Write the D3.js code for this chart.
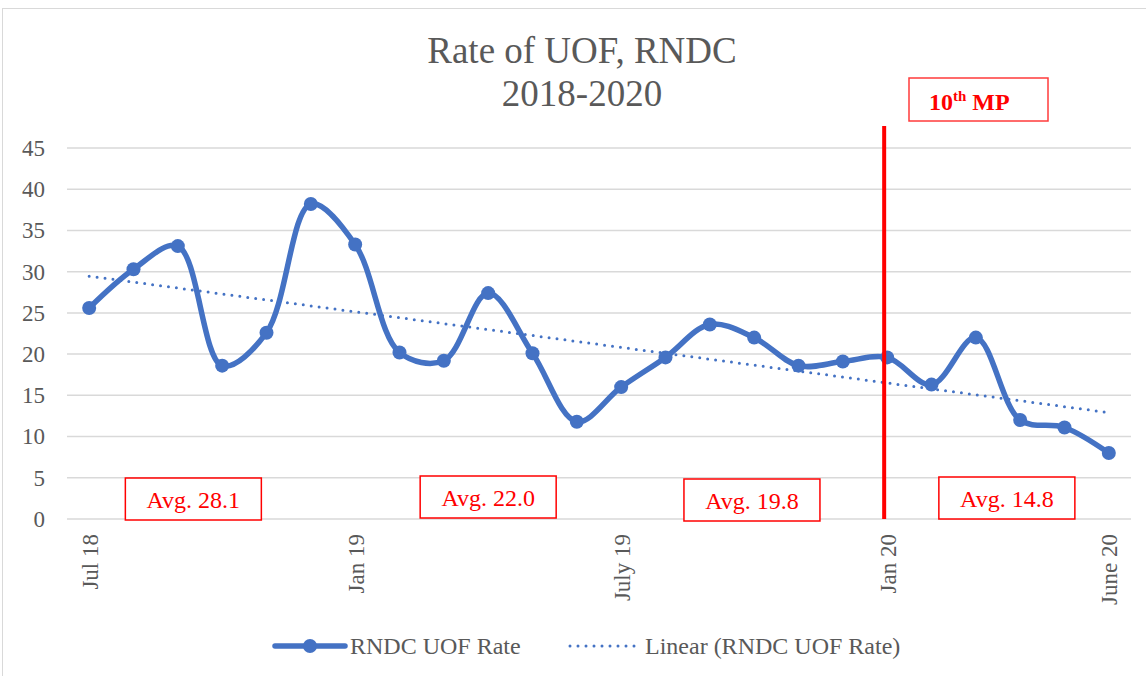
<!DOCTYPE html>
<html>
<head>
<meta charset="utf-8">
<script src="https://cdn.jsdelivr.net/npm/d3@7"></script>
<style>
body { margin: 0; background: #fff; }
text { font-family: "Liberation Serif", "Times New Roman", serif; }
</style>
</head>
<body>
<script>
// monthly UOF rate, Jul 2018 - Jun 2020
let months = ["Jul 18","Aug 18","Sep 18","Oct 18","Nov 18","Dec 18",
  "Jan 19","Feb 19","Mar 19","Apr 19","May 19","Jun 19",
  "Jul 19","Aug 19","Sep 19","Oct 19","Nov 19","Dec 19",
  "Jan 20","Feb 20","Mar 20","Apr 20","May 20","Jun 20"]
let rates = [25.6, 30.3, 33.1, 18.6, 22.6, 38.2,
  33.3, 20.2, 19.2, 27.4, 20.1, 11.8,
  16.0, 19.6, 23.6, 22.0, 18.6, 19.1,
  19.6, 16.3, 22.0, 12.0, 11.1, 8.0]
let tickMonths = ["Jul 18", "Jan 19", "Jul 19", "Jan 20", "Jun 20"]
let tickLabels = ["Jul 18", "Jan 19", "July 19", "Jan 20", "June 20"]
let avgLabels = ["Avg. 28.1", "Avg. 22.0", "Avg. 19.8", "Avg. 14.8"]
let yTicks = [0, 5, 10, 15, 20, 25, 30, 35, 40, 45]
let markerMonth = "Jan 20"

let width = 1146
let height = 676
let blue = "#4472c4"
let grey = "#595959"

let svg = d3.select("body")
.append("svg")
.attr("width", width)
.attr("height", height)

// chart border
svg.append("rect")
.attr("x", 2.5).attr("y", 8.5)
.attr("width", width + 10).attr("height", height + 10)
.style("fill", "none")
.style("stroke", "#d9d9d9")

//scales
let x = d3.scalePoint()
.domain(months)
.range([67, 1131])
.padding(0.5)

let y = d3.scaleLinear()
.domain([0, 45])
.range([519, 148])

// gridlines
svg.append("g")
.selectAll("line")
.data(yTicks)
.enter().append("line")
.attr("x1", 67).attr("x2", 1131)
.attr("y1", d => y(d)).attr("y2", d => y(d))
.style("stroke", "#d9d9d9")
.style("stroke-width", 1.5)

let yAxis = d3.axisLeft(y)
.tickValues(yTicks)
.tickSize(0)
.tickPadding(22)

svg.append("g")
.attr("transform", "translate(67,0)")
.call(yAxis)
.call(g => g.select(".domain").remove())
.selectAll("text")
.style("font-family", "Liberation Serif")
.style("font-size", "23px")
.style("fill", grey)

let xAxis = d3.axisBottom(x)
.tickValues(tickMonths)
.tickFormat((d, i) => tickLabels[i])
.tickSize(0)

svg.append("g")
.attr("transform", "translate(0,519)")
.call(xAxis)
.call(g => g.select(".domain").remove())
.selectAll("text")
.attr("transform", "rotate(-90)")
.attr("x", -15)
.attr("y", 0)
.attr("dy", "0.35em")
.style("text-anchor", "end")
.style("font-family", "Liberation Serif")
.style("font-size", "23px")
.style("fill", grey)

// linear trend (least squares)
let idx = rates.map((d, i) => i)
let mx = d3.mean(idx), my = d3.mean(rates)
let slope = d3.sum(idx, i => (i - mx) * (rates[i] - my)) / d3.sum(idx, i => (i - mx) * (i - mx))
let icpt = my - slope * mx

svg.append("line")
.attr("x1", x(months[0])).attr("y1", y(icpt))
.attr("x2", x(months[months.length - 1])).attr("y2", y(icpt + slope * (months.length - 1)))
.style("stroke", blue)
.style("stroke-width", 3)
.style("stroke-linecap", "round")
.style("stroke-dasharray", "0 8")

// main series
let line = d3.line()
.x((d, i) => x(months[i]))
.y(d => y(d))
.curve(d3.curveCatmullRom.alpha(0.5))

svg.append("path")
.datum(rates)
.attr("d", line)
.style("fill", "none")
.style("stroke", blue)
.style("stroke-width", 5.5)
.style("stroke-linejoin", "round")

svg.append("g")
.selectAll("circle")
.data(rates)
.enter().append("circle")
.attr("cx", (d, i) => x(months[i]))
.attr("cy", d => y(d))
.attr("r", 7)
.style("fill", blue)

// 10th MP marker
let mpX = x(markerMonth) - 3
svg.append("line")
.attr("x1", mpX).attr("x2", mpX)
.attr("y1", 126).attr("y2", y(0))
.style("stroke", "#ff0000")
.style("stroke-width", 4)

svg.append("rect")
.attr("x", 909).attr("y", 78)
.attr("width", 139).attr("height", 43)
.style("fill", "#fff")
.style("stroke", "#ff3b3b")
.style("stroke-width", 1.5)

let mp = svg.append("text")
.attr("x", 929).attr("y", 110)
.style("font-weight", "bold")
.style("font-size", "24px")
.style("fill", "#ff0000")
mp.append("tspan").text("10")
mp.append("tspan").text("th").attr("dy", -9).style("font-size", "15px")
mp.append("tspan").text(" MP").attr("dy", 9)

// average boxes
let avgPos = [2.35, 9, 14.95, 20.7]
let avgTop = [478, 476, 479, 477]
let step = x.step()
avgLabels.forEach((label, i) => {
  let cx = x(months[0]) + avgPos[i] * step
  let g = svg.append("g")
  g.append("rect")
  .attr("x", cx - 68).attr("y", avgTop[i])
  .attr("width", 136).attr("height", 42)
  .style("fill", "#fff")
  .style("stroke", "#ff0000")
  .style("stroke-width", 1.5)
  g.append("text")
  .attr("x", cx).attr("y", avgTop[i] + 30)
  .attr("text-anchor", "middle")
  .style("font-size", "24px")
  .style("fill", "#ff0000")
  .text(label)
})

// title
let title = svg.append("text")
.attr("text-anchor", "middle")
.style("font-size", "37px")
.style("fill", grey)
title.append("tspan").attr("x", 582).attr("y", 63).text("Rate of UOF, RNDC")
title.append("tspan").attr("x", 582).attr("y", 106).text("2018-2020")

// legend
let leg = svg.append("g")
leg.append("line")
.attr("x1", 275).attr("x2", 345).attr("y1", 646).attr("y2", 646)
.style("stroke", blue).style("stroke-width", 5.5).style("stroke-linecap", "round")
leg.append("circle").attr("cx", 310).attr("cy", 646).attr("r", 7).style("fill", blue)
leg.append("text").attr("x", 350).attr("y", 654)
.style("font-size", "24px").style("fill", grey).text("RNDC UOF Rate")
leg.append("line")
.attr("x1", 570).attr("x2", 638).attr("y1", 646).attr("y2", 646)
.style("stroke", blue).style("stroke-width", 3)
.style("stroke-linecap", "round").style("stroke-dasharray", "0 8")
leg.append("text").attr("x", 645).attr("y", 654)
.style("font-size", "24px").style("fill", grey).text("Linear (RNDC UOF Rate)")
</script>
</body>
</html>
